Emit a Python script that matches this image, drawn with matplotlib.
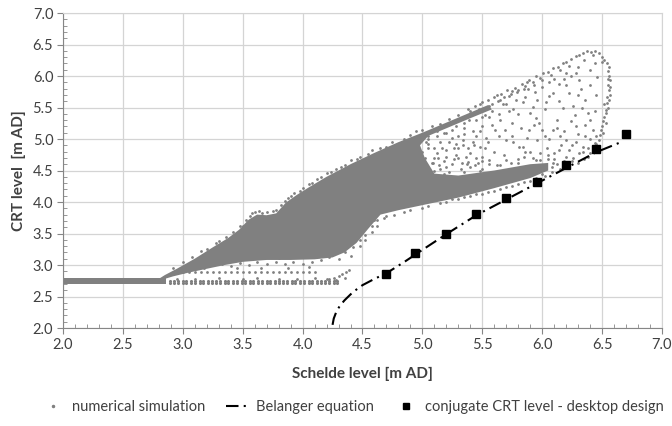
#!/usr/bin/env python3
"""
CRT level vs Schelde level: numerical simulation cloud,
Belanger equation and conjugate CRT levels (desktop design).
"""

import numpy as np
import matplotlib.pyplot as plt
from matplotlib.lines import Line2D

# ---- data ----
# dense part of the simulation cloud (outline)
core_x = [2.80, 2.85, 2.95, 3.10, 3.25, 3.38, 3.47, 3.55, 3.62, 3.70, 3.78, 3.86,
          3.95, 4.05, 4.20, 4.40, 4.60, 4.80, 5.00, 5.20, 5.40, 5.55, 5.58, 5.40,
          5.20, 5.05, 4.98, 5.02, 5.10, 5.30, 5.60, 5.90, 6.05, 6.05, 5.90, 5.60,
          5.30, 5.00, 4.80, 4.65, 4.55, 4.45, 4.35, 4.25, 4.10, 3.90, 3.70, 3.50,
          3.35, 3.20, 3.05, 2.92, 2.85]
core_y = [2.78, 2.84, 2.94, 3.10, 3.28, 3.43, 3.56, 3.72, 3.80, 3.79, 3.82, 3.99,
          4.11, 4.23, 4.40, 4.60, 4.78, 4.95, 5.10, 5.26, 5.42, 5.54, 5.47, 5.33,
          5.17, 5.05, 4.90, 4.70, 4.45, 4.42, 4.50, 4.60, 4.62, 4.50, 4.38, 4.22,
          4.07, 3.95, 3.87, 3.80, 3.58, 3.35, 3.20, 3.12, 3.09, 3.08, 3.08, 3.05,
          3.00, 2.94, 2.88, 2.82, 2.78]

# flat band at low Schelde levels (outline)
floor_x = [2.00, 2.86, 2.86, 2.00]
floor_y = [2.70, 2.70, 2.79, 2.79]

# rows of simulation points along the bottom (CRT level 2.72 / 2.745 / 2.89)
floor_row_x = [2.89, 2.93, 2.96, 3.00, 3.03, 3.07, 3.10, 3.14, 3.17, 3.21, 3.24,
               3.28, 3.31, 3.35, 3.38, 3.42, 3.45, 3.49, 3.52, 3.56, 3.59, 3.63,
               3.66, 3.70, 3.73, 3.77, 3.80, 3.84, 3.87, 3.91, 3.94, 3.98, 4.01,
               4.05, 4.08, 4.12, 4.15, 4.19, 4.22, 4.26, 4.29]
floor_levels = [2.72, 2.745]
row_x = [2.95, 3.00, 3.05, 3.10, 3.15, 3.20, 3.25, 3.30, 3.35, 3.40, 3.45, 3.50,
         3.55, 3.60, 3.65, 3.70, 3.75, 3.80, 3.85, 3.90, 3.95, 4.00, 4.05, 4.10]
row_level = 2.89

# individual simulation points
upper_band = [(5.40, 5.45), (5.44, 5.52), (5.47, 5.47), (5.50, 5.58), (5.52, 5.50),
              (5.55, 5.62), (5.58, 5.56), (5.60, 5.66), (5.63, 5.60), (5.66, 5.72),
              (5.68, 5.66), (5.71, 5.77), (5.74, 5.72), (5.77, 5.81), (5.80, 5.78),
              (5.83, 5.87), (5.86, 5.84), (5.89, 5.93), (5.92, 5.90), (5.95, 6.00),
              (5.98, 5.97), (6.01, 6.05), (6.05, 6.07), (6.09, 6.12), (6.13, 6.15),
              (6.17, 6.20), (6.20, 6.22), (6.24, 6.27), (6.28, 6.31), (6.31, 6.33),
              (6.34, 6.37), (6.37, 6.40), (6.41, 6.38), (6.44, 6.39), (6.47, 6.37),
              (6.42, 6.33), (6.50, 6.30), (5.62, 5.70), (5.75, 5.76), (5.87, 5.91),
              (5.05, 5.05), (5.12, 5.12), (5.20, 5.10), (5.28, 5.20), (5.35, 5.26),
              (5.45, 5.30), (5.52, 5.38), (5.18, 5.22), (5.30, 5.30), (5.42, 5.40),
              (5.56, 5.52), (5.65, 5.62), (5.72, 5.68), (5.79, 5.74), (5.85, 5.80),
              (5.93, 5.86), (6.00, 5.94), (6.07, 6.02), (6.15, 6.10), (6.22, 6.16)]
right_edge = [(6.52, 6.26), (6.54, 6.20), (6.56, 6.14), (6.55, 6.08), (6.56, 6.00),
              (6.57, 5.93), (6.55, 5.86), (6.56, 5.78), (6.57, 5.70), (6.56, 5.62),
              (6.54, 5.57), (6.55, 5.50), (6.53, 5.42), (6.52, 5.35), (6.51, 5.28),
              (6.50, 5.20), (6.49, 5.14), (6.48, 5.06), (6.47, 4.98), (6.45, 4.92),
              (6.53, 5.46), (6.57, 5.83), (6.50, 6.23), (6.54, 5.66), (6.53, 5.25),
              (6.51, 5.10), (6.55, 5.95), (6.52, 5.55)]
inner = [(6.31, 5.94), (6.22, 5.73), (6.36, 5.62), (6.17, 5.49), (6.09, 5.73),
         (6.03, 5.59), (5.92, 5.51), (5.95, 5.33), (6.09, 5.14), (6.28, 5.20),
         (6.36, 5.04), (6.20, 4.98), (5.96, 4.98), (5.89, 5.14), (5.86, 5.67),
         (5.84, 4.88), (6.14, 4.83), (6.31, 4.77), (5.98, 4.67), (6.09, 4.62),
         (6.44, 4.93), (5.56, 5.35), (5.61, 5.14), (5.75, 5.25), (5.78, 5.62),
         (5.70, 4.98), (5.81, 4.88), (5.48, 4.88), (5.34, 4.98), (5.36, 4.72),
         (5.56, 4.61), (5.25, 5.14), (5.20, 4.83), (5.70, 4.67), (5.92, 4.56),
         (5.39, 5.30), (6.40, 5.85), (6.44, 5.45), (6.27, 5.38), (6.12, 5.30),
         (6.00, 5.82), (5.72, 5.45), (5.65, 5.30), (5.50, 5.20), (5.45, 5.05),
         (5.30, 4.85), (5.15, 4.95), (5.10, 4.70), (5.25, 4.60), (5.45, 4.70),
         (5.60, 4.80), (5.75, 5.05), (5.90, 4.80), (6.02, 5.05), (6.15, 5.05),
         (6.25, 4.90), (6.38, 4.72), (6.40, 5.30), (6.33, 5.50), (6.20, 6.05),
         (6.10, 5.95), (5.80, 5.40), (5.55, 4.95), (5.40, 4.55), (5.85, 4.72),
         (6.05, 4.75), (6.25, 4.65), (6.30, 5.70), (6.42, 5.15), (5.97, 5.25),
         (5.67, 5.55), (5.05, 5.00), (5.10, 4.50), (5.30, 5.05), (5.50, 4.65),
         (5.65, 4.50), (4.95, 4.75), (5.00, 4.60), (5.05, 4.85), (5.12, 4.78),
         (5.18, 4.65), (5.22, 4.95), (5.28, 4.75), (5.33, 4.62), (4.98, 4.45),
         (5.08, 4.40), (5.15, 4.52), (5.38, 4.85), (5.42, 5.12), (5.35, 5.18),
         (5.25, 5.02), (4.92, 4.90), (5.02, 4.70), (5.18, 4.45), (5.48, 4.50),
         (5.02, 4.55), (5.08, 4.62), (5.14, 4.58), (5.20, 4.55), (5.26, 4.68),
         (5.32, 4.52), (5.38, 4.63), (5.44, 4.58), (5.50, 4.72), (5.56, 4.66),
         (5.62, 4.58), (5.68, 4.75), (5.74, 4.62), (5.80, 4.68), (5.86, 4.80),
         (5.92, 4.70), (5.98, 4.78), (6.04, 4.85), (6.10, 4.78), (6.16, 4.90),
         (6.22, 4.82), (6.28, 4.95), (6.34, 4.88), (6.40, 5.00), (5.05, 4.92),
         (5.12, 5.05), (5.18, 5.10), (5.28, 4.92), (5.35, 5.08), (5.42, 4.95),
         (5.48, 5.12), (5.53, 5.02), (5.58, 5.22), (5.64, 5.05), (5.69, 5.15),
         (5.76, 4.95), (5.82, 5.18), (5.87, 5.02), (5.93, 5.22), (6.00, 5.15),
         (6.06, 5.00), (6.12, 5.18), (6.18, 5.12), (6.24, 5.28), (6.30, 5.08),
         (6.36, 5.22), (6.45, 5.05), (5.50, 5.35), (5.58, 5.45), (5.64, 5.40),
         (5.70, 5.55), (5.76, 5.48), (5.84, 5.58), (5.90, 5.42), (5.96, 5.62),
         (6.02, 5.48), (6.06, 5.68), (6.14, 5.60), (6.20, 5.85), (6.26, 5.52),
         (6.32, 5.80), (6.38, 5.42), (6.45, 5.70), (6.46, 5.98), (6.40, 6.10),
         (6.30, 6.15), (6.24, 6.00), (6.14, 5.88), (6.06, 5.90), (5.94, 5.75),
         (5.88, 5.80), (6.35, 6.25), (6.44, 6.20), (6.28, 6.05), (6.18, 5.95),
         (4.95, 4.52), (4.98, 4.65), (5.00, 4.80), (5.03, 4.95), (5.06, 4.48),
         (5.09, 4.62), (5.10, 4.85), (5.13, 4.70), (5.16, 4.85), (5.20, 4.72),
         (5.22, 4.48), (5.26, 4.85), (5.30, 4.70), (5.34, 4.90), (5.37, 4.60),
         (5.40, 4.78), (5.43, 4.90), (5.46, 4.62), (5.52, 4.85)]
lower_right = [(6.08, 4.55), (6.12, 4.60), (6.15, 4.52), (6.18, 4.65), (6.22, 4.58),
               (6.26, 4.70), (6.30, 4.62), (6.34, 4.80), (6.38, 4.85), (6.42, 4.88),
               (6.10, 4.68), (6.20, 4.72), (6.35, 4.68), (6.40, 4.78), (4.70, 3.78),
               (4.85, 3.84), (5.00, 3.91), (5.15, 3.98), (5.30, 4.04), (5.50, 4.13),
               (5.65, 4.20), (5.80, 4.28), (5.95, 4.38), (4.62, 3.72), (4.58, 3.62),
               (5.10, 4.38), (5.20, 4.42), (5.35, 4.48), (5.50, 4.52), (5.65, 4.58),
               (5.80, 4.62), (5.95, 4.66), (6.05, 4.68), (5.25, 4.05), (5.40, 4.10),
               (5.55, 4.16), (5.70, 4.24), (5.85, 4.32), (6.00, 4.44), (6.08, 4.48),
               (4.48, 3.30), (4.52, 3.40), (4.58, 3.52), (4.62, 3.62), (4.68, 3.74),
               (4.76, 3.80), (4.90, 3.88), (5.05, 3.94), (5.20, 4.00), (5.35, 4.08),
               (5.45, 4.12), (5.60, 4.18), (5.75, 4.26), (5.90, 4.34), (6.02, 4.42)]
below_core = [(3.00, 2.95), (3.10, 2.97), (3.18, 2.96), (3.25, 3.00), (3.33, 3.02),
              (3.40, 2.98), (3.48, 3.03), (3.55, 3.00), (3.62, 3.04), (3.70, 3.02),
              (3.78, 3.05), (3.85, 3.01), (3.92, 3.04), (4.00, 3.02), (4.08, 3.05),
              (4.15, 3.08), (4.22, 3.12), (4.30, 3.10), (4.35, 3.20), (4.42, 3.28),
              (4.48, 3.40), (4.52, 3.48), (4.40, 3.15), (3.45, 2.95), (3.65, 2.96),
              (3.88, 2.96), (4.05, 2.97), (3.20, 3.02), (3.30, 3.06), (3.42, 3.08),
              (3.55, 3.10), (3.68, 3.12), (3.80, 3.11), (3.95, 3.12), (4.10, 3.14),
              (4.20, 3.18), (4.30, 3.26), (4.38, 3.35), (4.45, 3.45), (4.50, 3.55),
              (4.55, 3.65), (4.60, 3.72)]
top_fringe = [(3.50, 3.62), (3.56, 3.78), (3.60, 3.84), (3.66, 3.83), (3.85, 4.02),
              (3.90, 4.10), (3.98, 4.18), (4.05, 4.28), (4.12, 4.36), (4.20, 4.46),
              (4.28, 4.52), (4.35, 4.58), (4.45, 4.68), (4.55, 4.76), (3.78, 3.88),
              (3.30, 3.38), (3.15, 3.22), (4.70, 4.88), (4.85, 5.00), (5.00, 5.14),
              (5.15, 5.24), (5.30, 5.38), (2.92, 2.95), (3.00, 3.04), (3.08, 3.12),
              (3.20, 3.26), (3.28, 3.35), (3.36, 3.45), (3.42, 3.52), (3.48, 3.62),
              (3.53, 3.72), (3.58, 3.82), (3.64, 3.86), (3.70, 3.84), (3.75, 3.85),
              (3.82, 3.95), (3.88, 4.06), (3.93, 4.14), (4.00, 4.22), (4.08, 4.30),
              (4.15, 4.40), (4.24, 4.48), (4.32, 4.56), (4.40, 4.66), (4.48, 4.72),
              (4.58, 4.82), (4.65, 4.86), (4.75, 4.95), (4.90, 5.06), (4.95, 5.12),
              (5.08, 5.20), (5.22, 5.32), (5.38, 5.47), (5.48, 5.56)]
floor_dots = [(2.95, 2.78), (3.10, 2.77), (3.30, 2.79), (3.50, 2.77), (3.62, 2.80),
              (3.80, 2.78), (3.95, 2.77), (4.10, 2.79), (4.20, 2.78), (4.22, 2.78),
              (4.26, 2.80), (4.30, 2.83), (4.33, 2.86), (4.36, 2.89), (4.39, 2.92),
              (4.28, 2.76), (4.35, 2.80)]

# Belanger equation
belanger_x = [4.25, 4.26, 4.28, 4.31, 4.35, 4.42, 4.50, 4.60, 4.70, 4.85, 5.00,
              5.20, 5.45, 5.70, 5.95, 6.20, 6.45, 6.67]
belanger_y = [2.05, 2.15, 2.25, 2.35, 2.44, 2.57, 2.68, 2.78, 2.87, 3.05, 3.24,
              3.49, 3.79, 4.04, 4.29, 4.54, 4.79, 4.96]

# conjugate CRT level - desktop design
conj_x = [4.70, 4.94, 5.20, 5.45, 5.70, 5.955, 6.20, 6.45, 6.70]
conj_y = [2.86, 3.19, 3.50, 3.81, 4.06, 4.32, 4.59, 4.84, 5.08]

GREY = '#808080'
TEXT = '#404040'

plt.rcParams['font.family'] = ['Lato', 'DejaVu Sans']

fig = plt.figure(figsize=(6.72, 4.26), dpi=100)
ax = fig.add_axes([63 / 672, 1 - 328 / 426, 599 / 672, 315 / 426])

# simulation cloud
ax.fill(core_x, core_y, color=GREY, lw=0, zorder=2)
ax.fill(floor_x, floor_y, color=GREY, lw=0, zorder=2)
pts = np.array(upper_band + right_edge + inner + lower_right
               + below_core + top_fringe + floor_dots)
ax.scatter(pts[:, 0], pts[:, 1], s=4, c=GREY, linewidths=0, zorder=2)
ax.scatter(row_x, [row_level] * len(row_x), s=4, c=GREY, linewidths=0, zorder=2)
for level in floor_levels:
    ax.scatter(floor_row_x, [level] * len(floor_row_x), s=5, c=GREY,
               linewidths=0, zorder=2)

# Belanger equation and conjugate levels
ax.plot(belanger_x, belanger_y, color='black', lw=1.5,
        linestyle=(0, (6, 2.5, 1, 2.5)), zorder=3)
ax.plot(conj_x, conj_y, 's', color='black', markersize=6, zorder=4)

# axes, grid and ticks
ax.set_xlim(2.0, 7.0)
ax.set_ylim(2.0, 7.0)
ax.set_xticks(np.arange(2.0, 7.01, 0.5))
ax.set_yticks(np.arange(2.0, 7.01, 0.5))
ax.set_xticks(np.arange(2.0, 7.01, 0.1), minor=True)
ax.set_yticks(np.arange(2.0, 7.01, 0.1), minor=True)
ax.xaxis.set_major_formatter('{x:.1f}')
ax.yaxis.set_major_formatter('{x:.1f}')
ax.grid(True, which='major', color='#d4d4d4', lw=0.9, zorder=0)
ax.set_axisbelow(True)
ax.tick_params(which='major', direction='out', length=4, color='#868686',
               labelsize=10.5, labelcolor=TEXT, pad=3)
ax.tick_params(which='minor', direction='in', length=3, color='#868686')
for side in ['left', 'bottom']:
    ax.spines[side].set_color('#868686')
for side in ['top', 'right']:
    ax.spines[side].set_color('#d4d4d4')

ax.set_xlabel("Schelde level [m AD]", fontsize=11, fontweight='bold',
              color=TEXT, labelpad=11)
ax.set_ylabel("CRT level  [m AD]", fontsize=11, fontweight='bold',
              color=TEXT, labelpad=5)

# legend
handles = [
    Line2D([], [], marker='o', linestyle='none', color=GREY, markersize=1.5),
    Line2D([], [], color='black', lw=1.5, linestyle=(0, (6, 2.5, 1, 2.5))),
    Line2D([], [], marker='s', linestyle='none', color='black', markersize=5),
]
labels = ["numerical simulation", "Belanger equation",
          "conjugate CRT level - desktop design"]
fig.legend(handles, labels, loc='center', bbox_to_anchor=(0.525, 0.045),
           ncol=3, frameon=False, fontsize=10.5, labelcolor=TEXT,
           handlelength=1.6, handletextpad=0.5, columnspacing=1.4)

fig.savefig('out.png', dpi=100)
